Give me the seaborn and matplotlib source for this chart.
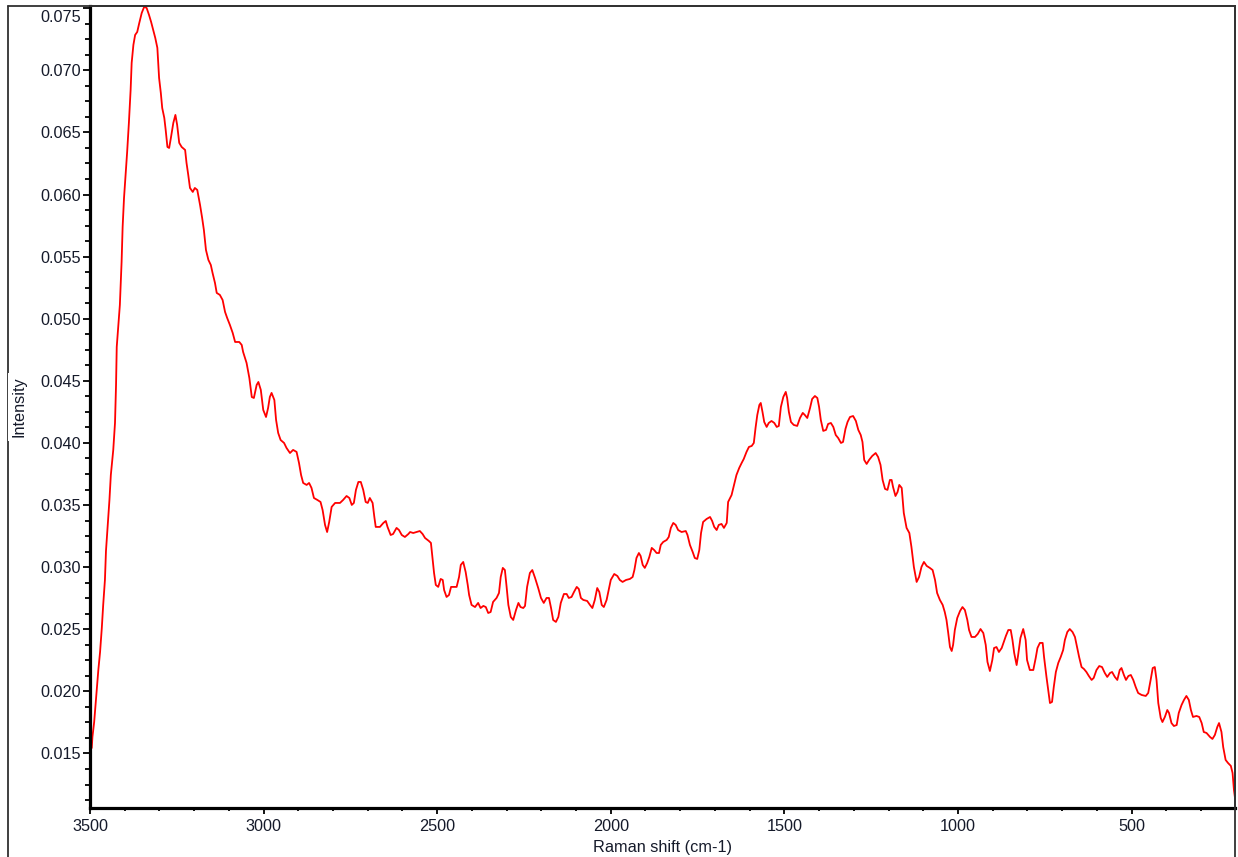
import numpy as np
import pandas as pd
import seaborn as sns
import matplotlib
matplotlib.use("Agg")
import matplotlib.pyplot as plt
from matplotlib.lines import Line2D
from matplotlib.ticker import MultipleLocator, AutoMinorLocator, FormatStrFormatter
from matplotlib.transforms import ScaledTranslation

# ---- data ----
raman_shift = [
    3495, 3493, 3488, 3484, 3480, 3476, 3471, 3466, 3462, 3457, 3454, 3449, 3444, 3440, 3433, 3428,
    3425, 3423, 3414, 3409, 3406, 3402, 3397, 3393, 3388, 3383, 3380, 3375, 3370, 3364, 3358, 3351,
    3344, 3337, 3330, 3324, 3318, 3312, 3306, 3301, 3296, 3292, 3286, 3282, 3277, 3272, 3267, 3260,
    3254, 3249, 3243, 3236, 3226, 3222, 3217, 3212, 3204, 3198, 3191, 3183, 3177, 3172, 3166, 3159,
    3152, 3147, 3140, 3135, 3126, 3118, 3111, 3105, 3097, 3089, 3082, 3070, 3063, 3059, 3049, 3041,
    3034, 3028, 3020, 3015, 3008, 3001, 2993, 2987, 2982, 2977, 2969, 2964, 2958, 2951, 2941, 2934,
    2924, 2915, 2905, 2898, 2892, 2886, 2876, 2869, 2862, 2855, 2845, 2836, 2830, 2823, 2817, 2811,
    2804, 2794, 2780, 2771, 2761, 2753, 2746, 2740, 2734, 2727, 2720, 2713, 2706, 2700, 2694, 2686,
    2681, 2677, 2665, 2655, 2648, 2643, 2634, 2627, 2617, 2610, 2602, 2593, 2583, 2578, 2569, 2559,
    2550, 2542, 2535, 2524, 2518, 2513, 2509, 2504, 2497, 2490, 2484, 2480, 2473, 2466, 2460, 2452,
    2444, 2437, 2432, 2425, 2418, 2412, 2408, 2401, 2391, 2382, 2375, 2367, 2360, 2353, 2346, 2339,
    2329, 2322, 2317, 2311, 2305, 2300, 2295, 2288, 2281, 2273, 2266, 2260, 2252, 2247, 2241, 2233,
    2226, 2218, 2209, 2201, 2193, 2185, 2178, 2172, 2166, 2158, 2151, 2144, 2135, 2127, 2121, 2113,
    2106, 2098, 2092, 2086, 2079, 2068, 2060, 2053, 2046, 2039, 2033, 2026, 2020, 2012, 2005, 2000,
    1990, 1981, 1974, 1966, 1956, 1945, 1937, 1932, 1926, 1919, 1914, 1908, 1902, 1895, 1889, 1882,
    1875, 1868, 1861, 1856, 1849, 1839, 1833, 1827, 1820, 1813, 1806, 1796, 1784, 1779, 1772, 1764,
    1758, 1751, 1745, 1740, 1734, 1724, 1714, 1708, 1702, 1695, 1689, 1681, 1674, 1666, 1662, 1652,
    1645, 1638, 1630, 1623, 1617, 1609, 1602, 1594, 1588, 1583, 1578, 1572, 1568, 1563, 1558, 1551,
    1545, 1537, 1529, 1522, 1516, 1510, 1503, 1496, 1492, 1487, 1481, 1473, 1463, 1455, 1447, 1441,
    1434, 1426, 1420, 1412, 1405, 1400, 1395, 1388, 1380, 1374, 1366, 1359, 1352, 1345, 1337, 1331,
    1324, 1318, 1311, 1302, 1294, 1287, 1280, 1275, 1270, 1263, 1256, 1247, 1237, 1230, 1223, 1217,
    1210, 1203, 1196, 1191, 1187, 1180, 1174, 1169, 1162, 1156, 1148, 1140, 1134, 1127, 1119, 1112,
    1105, 1098, 1090, 1081, 1073, 1066, 1060, 1052, 1044, 1038, 1033, 1028, 1023, 1018, 1014, 1009,
    1002, 994, 987, 980, 973, 968, 961, 951, 943, 935, 927, 920, 915, 908, 901, 896,
    889, 882, 874, 868, 862, 855, 848, 843, 838, 831, 827, 820, 812, 805, 801, 793,
    783, 776, 771, 764, 756, 752, 745, 740, 735, 729, 724, 718, 711, 704, 697, 692,
    685, 678, 670, 663, 657, 651, 644, 637, 630, 623, 615, 609, 601, 593, 585, 577,
    570, 562, 556, 548, 541, 534, 529, 522, 516, 509, 502, 495, 488, 481, 471, 459,
    452, 445, 439, 433, 428, 423, 416, 411, 404, 397, 392, 385, 378, 370, 364, 356,
    349, 342, 335, 329, 323, 313, 305, 298, 292, 284, 274, 267, 260, 253, 248, 241,
    236, 229, 222, 214, 209, 205, 202,
]
intensity = [
    0.01544, 0.01633, 0.01753, 0.01890, 0.02035, 0.02172, 0.02317, 0.02510, 0.02696, 0.02897, 0.03130, 0.03340, 0.03541, 0.03742, 0.03944, 0.04161,
    0.04467, 0.04773, 0.05111, 0.05457, 0.05739, 0.05973, 0.06174, 0.06343, 0.06577, 0.06842, 0.07060, 0.07205, 0.07285, 0.07309, 0.07382, 0.07462,
    0.07511, 0.07503, 0.07446, 0.07390, 0.07325, 0.07261, 0.07181, 0.06939, 0.06818, 0.06697, 0.06617, 0.06520, 0.06383, 0.06375, 0.06456, 0.06577,
    0.06641, 0.06561, 0.06416, 0.06383, 0.06359, 0.06255, 0.06158, 0.06053, 0.06021, 0.06053, 0.06037, 0.05916, 0.05812, 0.05715, 0.05554, 0.05474,
    0.05433, 0.05369, 0.05288, 0.05208, 0.05192, 0.05151, 0.05055, 0.05007, 0.04950, 0.04886, 0.04813, 0.04813, 0.04789, 0.04733, 0.04644, 0.04523,
    0.04370, 0.04362, 0.04467, 0.04491, 0.04427, 0.04266, 0.04209, 0.04282, 0.04370, 0.04403, 0.04346, 0.04185, 0.04081, 0.04024, 0.04000, 0.03960,
    0.03919, 0.03944, 0.03928, 0.03839, 0.03742, 0.03678, 0.03662, 0.03678, 0.03638, 0.03557, 0.03541, 0.03525, 0.03460, 0.03340, 0.03283, 0.03364,
    0.03485, 0.03517, 0.03517, 0.03541, 0.03573, 0.03557, 0.03501, 0.03517, 0.03622, 0.03686, 0.03686, 0.03622, 0.03525, 0.03517, 0.03557, 0.03517,
    0.03404, 0.03324, 0.03324, 0.03356, 0.03372, 0.03324, 0.03259, 0.03267, 0.03316, 0.03299, 0.03259, 0.03243, 0.03267, 0.03283, 0.03275, 0.03283,
    0.03291, 0.03267, 0.03235, 0.03211, 0.03195, 0.03058, 0.02953, 0.02857, 0.02841, 0.02905, 0.02897, 0.02816, 0.02760, 0.02776, 0.02841, 0.02841,
    0.02841, 0.02921, 0.03018, 0.03042, 0.02961, 0.02857, 0.02776, 0.02696, 0.02679, 0.02712, 0.02671, 0.02688, 0.02679, 0.02631, 0.02639, 0.02720,
    0.02752, 0.02792, 0.02921, 0.02994, 0.02977, 0.02841, 0.02696, 0.02599, 0.02575, 0.02655, 0.02712, 0.02679, 0.02671, 0.02688, 0.02841, 0.02953,
    0.02977, 0.02913, 0.02832, 0.02752, 0.02712, 0.02752, 0.02752, 0.02671, 0.02575, 0.02559, 0.02599, 0.02712, 0.02784, 0.02784, 0.02752, 0.02760,
    0.02800, 0.02841, 0.02824, 0.02752, 0.02736, 0.02728, 0.02696, 0.02671, 0.02736, 0.02832, 0.02800, 0.02696, 0.02679, 0.02736, 0.02832, 0.02897,
    0.02945, 0.02929, 0.02897, 0.02881, 0.02897, 0.02905, 0.02921, 0.02977, 0.03074, 0.03114, 0.03090, 0.03018, 0.02994, 0.03034, 0.03082, 0.03155,
    0.03138, 0.03114, 0.03114, 0.03179, 0.03203, 0.03219, 0.03243, 0.03316, 0.03356, 0.03340, 0.03299, 0.03283, 0.03291, 0.03259, 0.03179, 0.03122,
    0.03074, 0.03066, 0.03138, 0.03275, 0.03364, 0.03388, 0.03404, 0.03372, 0.03324, 0.03299, 0.03340, 0.03348, 0.03316, 0.03356, 0.03525, 0.03581,
    0.03662, 0.03742, 0.03799, 0.03839, 0.03871, 0.03928, 0.03968, 0.03976, 0.04000, 0.04121, 0.04225, 0.04306, 0.04322, 0.04250, 0.04169, 0.04129,
    0.04161, 0.04177, 0.04161, 0.04129, 0.04137, 0.04290, 0.04370, 0.04411, 0.04362, 0.04250, 0.04169, 0.04145, 0.04137, 0.04201, 0.04242, 0.04225,
    0.04201, 0.04282, 0.04354, 0.04378, 0.04362, 0.04290, 0.04185, 0.04097, 0.04105, 0.04153, 0.04161, 0.04129, 0.04064, 0.04040, 0.04000, 0.04008,
    0.04113, 0.04169, 0.04209, 0.04217, 0.04177, 0.04105, 0.04064, 0.04008, 0.03863, 0.03831, 0.03863, 0.03895, 0.03919, 0.03887, 0.03823, 0.03702,
    0.03630, 0.03622, 0.03702, 0.03702, 0.03646, 0.03573, 0.03605, 0.03662, 0.03638, 0.03436, 0.03316, 0.03275, 0.03163, 0.03002, 0.02881, 0.02921,
    0.03002, 0.03042, 0.03010, 0.02994, 0.02977, 0.02897, 0.02792, 0.02736, 0.02696, 0.02639, 0.02575, 0.02470, 0.02357, 0.02325, 0.02374, 0.02494,
    0.02591, 0.02647, 0.02679, 0.02655, 0.02575, 0.02494, 0.02438, 0.02438, 0.02462, 0.02502, 0.02470, 0.02374, 0.02237, 0.02164, 0.02253, 0.02349,
    0.02357, 0.02317, 0.02349, 0.02398, 0.02446, 0.02494, 0.02494, 0.02414, 0.02309, 0.02212, 0.02285, 0.02430, 0.02502, 0.02414, 0.02253, 0.02172,
    0.02172, 0.02269, 0.02349, 0.02390, 0.02390, 0.02277, 0.02116, 0.02011, 0.01906, 0.01915, 0.02035, 0.02156, 0.02229, 0.02277, 0.02333, 0.02414,
    0.02478, 0.02502, 0.02478, 0.02438, 0.02357, 0.02277, 0.02196, 0.02180, 0.02156, 0.02124, 0.02092, 0.02108, 0.02172, 0.02204, 0.02196, 0.02148,
    0.02116, 0.02148, 0.02156, 0.02116, 0.02092, 0.02172, 0.02188, 0.02132, 0.02092, 0.02124, 0.02132, 0.02092, 0.02035, 0.01987, 0.01971, 0.01963,
    0.01987, 0.02092, 0.02188, 0.02196, 0.02092, 0.01906, 0.01786, 0.01753, 0.01794, 0.01850, 0.01826, 0.01745, 0.01721, 0.01729, 0.01826, 0.01890,
    0.01931, 0.01963, 0.01931, 0.01850, 0.01794, 0.01802, 0.01794, 0.01745, 0.01673, 0.01665, 0.01633, 0.01617, 0.01649, 0.01713, 0.01745, 0.01673,
    0.01552, 0.01448, 0.01423, 0.01400, 0.01343, 0.01206, 0.01142,
]

x_ticks = [3500, 3000, 2500, 2000, 1500, 1000, 500]
y_ticks = [0.015, 0.020, 0.025, 0.030, 0.035, 0.040, 0.045, 0.050, 0.055, 0.060, 0.065, 0.070, 0.075]
x_label = "Raman shift (cm-1)"
y_label = "Intensity"

# ---- style ----
sns.set_style("ticks")
plt.rcParams["font.family"] = ["Liberation Sans", "DejaVu Sans"]

W, H = 1238, 857
fig = plt.figure(figsize=(W / 100, H / 100), dpi=100)
ax = fig.add_axes([90 / W, 49 / H, 1145 / W, 802 / H])

df = pd.DataFrame({"shift": raman_shift, "intensity": intensity})
sns.lineplot(data=df, x="shift", y="intensity", ax=ax, color="#ff0000",
             linewidth=1.3, sort=False, estimator=None)

ax.set_xlim(3500, 202)
ax.set_ylim(0.01061, 0.07518)

ax.set_xticks(x_ticks)
ax.set_yticks(y_ticks)
ax.xaxis.set_minor_locator(MultipleLocator(100))
ax.yaxis.set_minor_locator(AutoMinorLocator(4))
ax.yaxis.set_major_formatter(FormatStrFormatter("%.3f"))
ax.xaxis.set_major_formatter(FormatStrFormatter("%d"))

txt_color = "#151a2a"
ax.tick_params(axis="both", which="major", direction="out", color="black",
               labelsize=11.7, labelcolor=txt_color, width=1.3)
ax.tick_params(axis="y", which="major", length=5.2, pad=1.2)
ax.tick_params(axis="y", which="minor", length=3.6, width=1.3, color="black")
ax.tick_params(axis="x", which="major", length=4.0, pad=4.0)
ax.tick_params(axis="x", which="minor", length=2.4, width=1.3, color="black")

for side in ["left", "bottom"]:
    ax.spines[side].set_linewidth(2.3)
    ax.spines[side].set_color("black")
for side in ["top", "right"]:
    ax.spines[side].set_visible(True)
    ax.spines[side].set_linewidth(1.2)
    ax.spines[side].set_color("#303030")

ax.set_xlabel(x_label, fontsize=11.7, color=txt_color, labelpad=4.5)
ax.set_ylabel("")

# outer frame drawn around the whole chart
frame_kw = dict(color="#303030", linewidth=1.3, transform=fig.transFigure, zorder=1)
top_y = (H - 6) / H
fig.add_artist(Line2D([8 / W, 8 / W], [0, top_y], **frame_kw))
fig.add_artist(Line2D([8 / W, 1235 / W], [top_y, top_y], **frame_kw))
fig.add_artist(Line2D([1234.5 / W, 1234.5 / W], [0, top_y], **frame_kw))

fig.text(19 / W, (H - 407) / H, y_label, rotation=90, ha="center", va="center",
         fontsize=11.7, color=txt_color, zorder=5,
         bbox=dict(facecolor="white", edgecolor="none", pad=2.5))

ax.set_facecolor("white")
fig.patch.set_facecolor("white")

# shift the top tick label a little down so it stays inside the frame
fig.canvas.draw()
for lab in ax.get_yticklabels():
    if lab.get_text() == "0.075":
        lab.set_transform(lab.get_transform() + ScaledTranslation(0, -8 / 100, fig.dpi_scale_trans))

fig.savefig("out.png", dpi=100, facecolor="white")
